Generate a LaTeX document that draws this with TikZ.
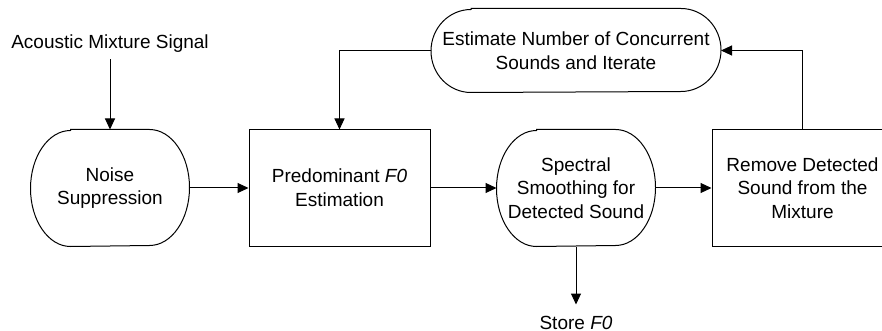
\documentclass[tikz,border=0pt]{standalone}
\usepackage{fontspec}
\setmainfont{Liberation Sans}
\usetikzlibrary{positioning,arrows.meta}

\begin{document}
\begin{tikzpicture}[x=0.5pt,y=-0.5pt,->,>={Triangle[length=5.5pt,width=5pt]},line width=0.5pt,
    font=\fontsize{9.5}{11.8}\selectfont,
    termb/.style={draw=none,align=center,inner sep=0pt,minimum width=79pt,minimum height=58pt},
    procb/.style={draw,align=center,inner sep=0pt,minimum width=90.5pt,minimum height=58pt},
    lbl/.style={draw=none,inner sep=0.3333em}]
%
   \clip (0,0) rectangle (882,331);
   \node[termb]         (N1) at (110,188) {Noise\\Suppression};
   \node[procb]         (N2) [right=29.5pt of N1] {Predominant \textit{F0}\\Estimation};
   \node[termb]         (N3) [right=33pt of N2] {Spectral\\Smoothing for\\Detected Sound};
   \node[procb]         (N4) [right=28pt of N3] {Remove Detected\\Sound from the\\Mixture};
   \node[termb]         (N5) [above=18.5pt of N3, minimum width=144.5pt, minimum height=41.5pt]
                             {Estimate Number of Concurrent\\Sounds and Iterate};
   \node[lbl]           (N6) [above=35pt of N1] {Acoustic Mixture Signal};
   \node[lbl, inner sep=1pt] (N7) [below=33.5pt of N3] {Store \textit{F0}};
   % rounded outlines
   \foreach \n/\ry in {N1/29pt,N3/29pt,N5/20.75pt}
     \draw[-] ([xshift=20pt]\n.north west) -- ([xshift=-20pt]\n.north east)
        arc[start angle=90,end angle=-90,x radius=20pt,y radius=\ry]
        -- ([xshift=20pt]\n.south west)
        arc[start angle=270,end angle=90,x radius=20pt,y radius=\ry] -- cycle;
   \path (N6) edge (N1);
   \path (N1) edge (N2);
   \path (N2) edge (N3);
   \path (N3) edge (N4);
   \path (N3) edge[shorten >=4.5pt] (N7);
   \draw (N4.north) |- (N5.east);
   \draw (N5.west) -| (N2.north);
\end{tikzpicture}
\end{document}
